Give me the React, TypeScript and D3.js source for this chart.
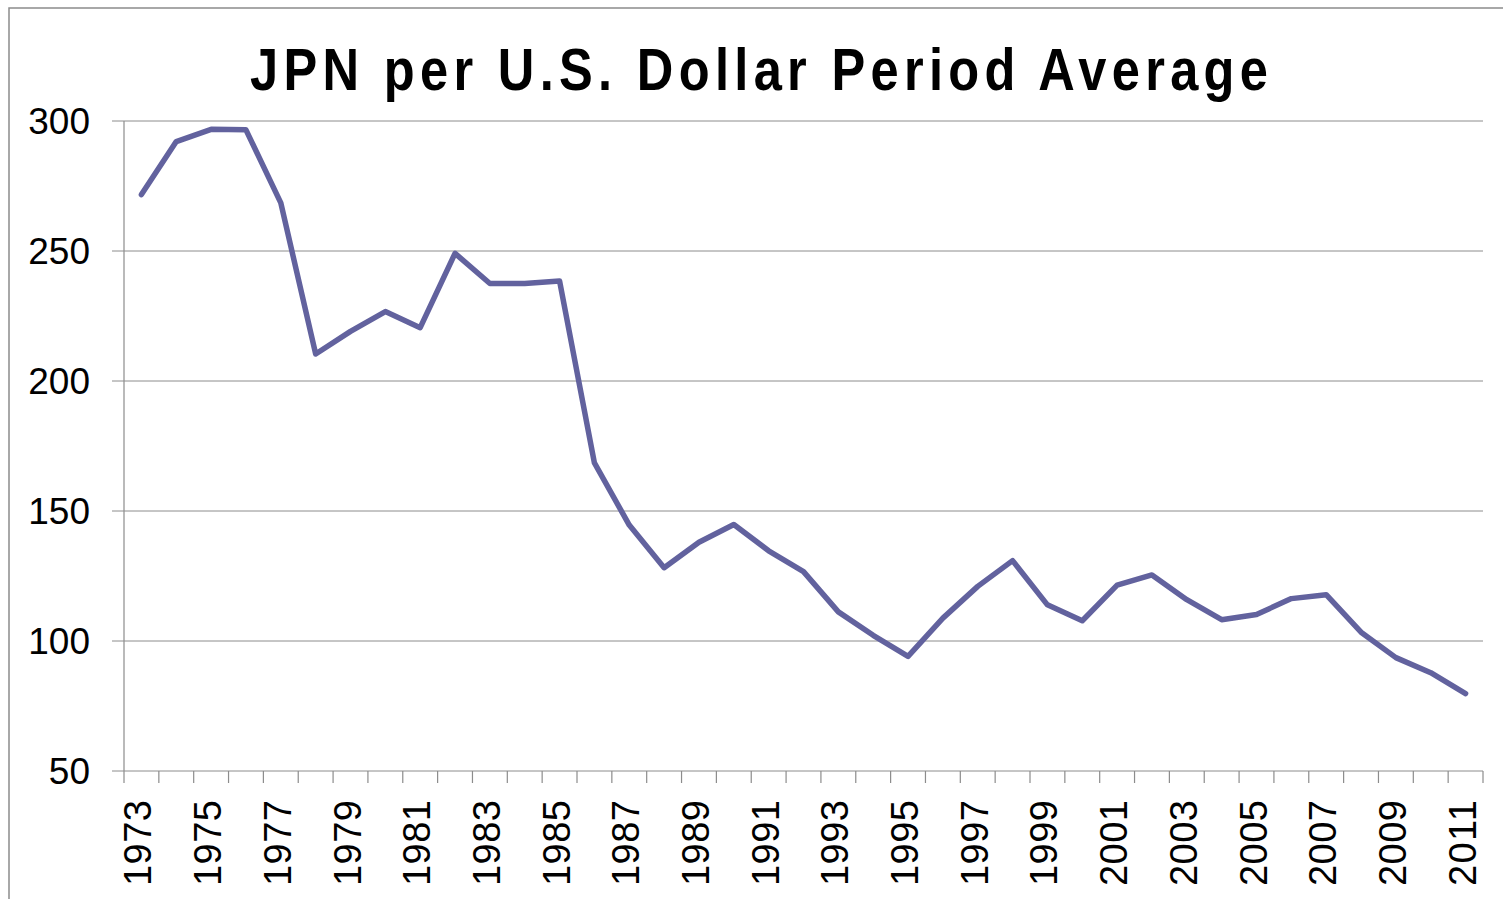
import * as d3 from "d3";

const years = d3.range(1973, 2012).map(String);
const rates = [
  271.7, 292.1, 296.8, 296.6, 268.5, 210.4, 219.1, 226.7, 220.5, 249.1,
  237.5, 237.5, 238.5, 168.5, 144.6, 128.2, 138.0, 144.8, 134.7, 126.7,
  111.2, 102.2, 94.1, 108.8, 121.0, 130.9, 113.9, 107.8, 121.5, 125.4,
  115.9, 108.2, 110.2, 116.3, 117.8, 103.4, 93.6, 87.8, 79.8,
];
const yTicks = [50, 100, 150, 200, 250, 300];

const W = 1503;
const H = 899;
const MARGIN = { top: 121, right: 20, bottom: 128, left: 124 };
const FONT = "'Liberation Sans', Arial, sans-serif";
const GRID = "#8c8c8c";
const LINE = "#62629e";

export default function App() {
  const plotRight = 1483;
  const plotBottom = H - MARGIN.bottom; // 771

  const x = d3.scaleBand().domain(years).range([MARGIN.left, plotRight]);
  const y = d3.scaleLinear().domain([50, 300]).range([plotBottom, MARGIN.top]);

  const line = d3
    .line<number>()
    .x((_, i) => (x(years[i]) as number) + x.bandwidth() / 2)
    .y((d) => y(d));

  // tick marks sit on the band edges
  const edges = years.map((yr) => x(yr) as number).concat(plotRight);

  return (
    <svg
      width={W}
      height={H}
      style={{ position: "absolute", left: 0, top: 0, background: "#fff" }}
    >
      {/* chart frame, runs off the right and bottom */}
      <rect x={9} y={8} width={W + 20} height={H + 20} fill="#fff" stroke={GRID} strokeWidth={1.5} />

      {/* narrow, tall title: squeeze horizontally, stretch vertically */}
      <g transform="translate(759,90) scale(0.92,1.08)">
        <text
          x={0}
          y={0}
          textAnchor="middle"
          fontFamily={FONT}
          fontWeight="bold"
          fontSize={55}
          textLength={1018 / 0.92}
          lengthAdjust="spacing"
        >
          JPN per U.S. Dollar Period Average
        </text>
      </g>

      {/* horizontal grid + y labels */}
      {yTicks.map((t) => (
        <g key={t}>
          <line x1={112} x2={plotRight} y1={y(t)} y2={y(t)} stroke={GRID} strokeWidth={1} />
          <text
            x={90}
            y={y(t)}
            textAnchor="end"
            dominantBaseline="central"
            fontFamily={FONT}
            fontSize={37}
          >
            {t}
          </text>
        </g>
      ))}

      {/* axes */}
      <line x1={MARGIN.left} x2={MARGIN.left} y1={MARGIN.top} y2={plotBottom} stroke={GRID} strokeWidth={1.2} />
      {edges.map((ex, i) => (
        <line key={i} x1={ex} x2={ex} y1={plotBottom} y2={plotBottom + 12} stroke={GRID} strokeWidth={1.2} />
      ))}

      {years.map((yr, i) =>
        i % 2 === 0 ? (
          <text
            key={yr}
            transform={`translate(${(x(yr) as number) + x.bandwidth() / 2 - 3},${800}) rotate(-90)`}
            textAnchor="end"
            dominantBaseline="central"
            fontFamily={FONT}
            fontSize={38}
            textLength={86}
            lengthAdjust="spacing"
          >
            {yr}
          </text>
        ) : null
      )}

      <path
        d={line(rates) ?? ""}
        fill="none"
        stroke={LINE}
        strokeWidth={5.5}
        strokeLinejoin="round"
        strokeLinecap="round"
      />
    </svg>
  );
}
